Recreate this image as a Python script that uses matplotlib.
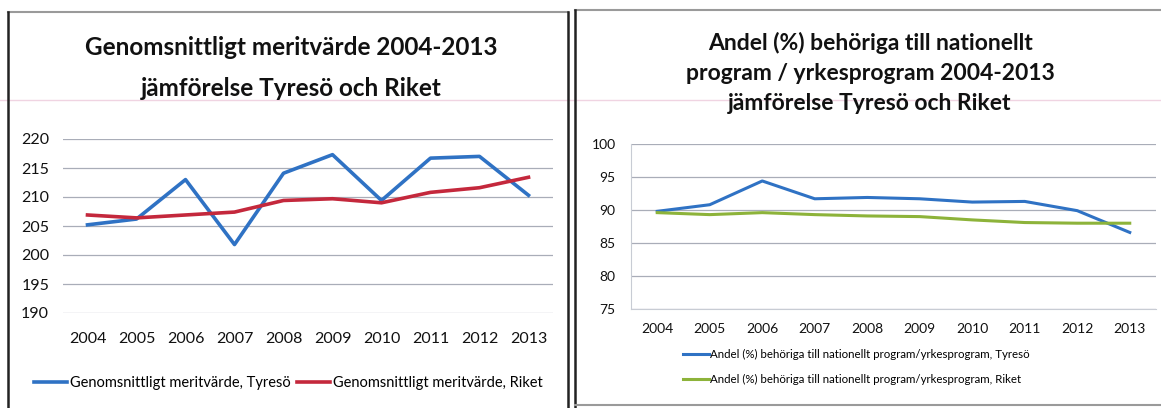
import matplotlib.pyplot as plt
from matplotlib.lines import Line2D

plt.rcParams['font.family'] = ['Lato', 'DejaVu Sans']

# Data
years = ["2004", "2005", "2006", "2007", "2008", "2009", "2010", "2011", "2012", "2013"]
merit_tyreso = [205.2, 206.2, 213.0, 201.8, 214.1, 217.3, 209.4, 216.7, 217.0, 210.3]
merit_riket = [206.9, 206.4, 206.9, 207.4, 209.4, 209.7, 209.0, 210.8, 211.6, 213.4]
andel_tyreso = [89.8, 90.8, 94.4, 91.7, 91.9, 91.7, 91.2, 91.3, 89.9, 86.6]
andel_riket = [89.6, 89.3, 89.6, 89.3, 89.1, 89.0, 88.5, 88.1, 88.0, 88.0]

blue = "#2f72c4"
red = "#c4283c"
green = "#8db33a"
grid_col = "#a9adb8"

W, H = 1161, 408
fig = plt.figure(figsize=(W / 100, H / 100), dpi=100)
fig.patch.set_facecolor("white")


def px(x0, y0, x1, y1):
    # pixel box (top-left origin) -> figure fraction [l, b, w, h]
    return [x0 / W, 1 - y1 / H, (x1 - x0) / W, (y1 - y0) / H]


def hline(x0, x1, y, **kw):
    fig.add_artist(Line2D([x0 / W, x1 / W], [1 - y / H, 1 - y / H], **kw))


def vline(x, y0, y1, **kw):
    fig.add_artist(Line2D([x / W, x / W], [1 - y0 / H, 1 - y1 / H], **kw))


# panel frames (scanned page look)
hline(0, W, 100, color="#f0d4e2", lw=1.0)
hline(8, 568, 12, color="#9a9a9a", lw=1.5)
hline(575, W, 10, color="#9a9a9a", lw=1.5)
vline(8, 12, H, color="#222222", lw=1.8)
vline(568, 12, H, color="#222222", lw=1.8)
vline(575, 10, H, color="#222222", lw=1.8)
hline(575, W, 405, color="#9a9a9a", lw=1.5)

x = list(range(len(years)))

# ===== Left chart =====
ax1 = fig.add_axes(px(63, 139, 553, 313))
ax1.plot(x, merit_tyreso, color=blue, lw=2.6, label="Genomsnittligt meritvärde, Tyresö")
ax1.plot(x, merit_riket, color=red, lw=2.6, label="Genomsnittligt meritvärde, Riket")
ax1.set_xlim(-0.5, len(years) - 0.5)
ax1.set_ylim(190, 220)
ax1.set_yticks(range(190, 221, 5))
ax1.set_xticks(x)
ax1.set_xticklabels(years)
ax1.grid(axis="y", color=grid_col, lw=0.9)
ax1.set_axisbelow(True)
for s in ax1.spines.values():
    s.set_visible(False)
ax1.tick_params(length=0, labelsize=11.5, colors="#111111")
ax1.tick_params(axis="x", pad=14)
ax1.tick_params(axis="y", pad=10)
fig.text(291 / W, 1 - 68 / H, "Genomsnittligt meritvärde 2004-2013\njämförelse Tyresö och Riket",
         ha="center", va="center", fontsize=17.5, fontweight="bold", linespacing=1.95, color="#111111")
ax1.legend(loc="center", bbox_to_anchor=(0.46, -0.405), ncol=2, frameon=False, fontsize=10.5,
           handlelength=2.3, handletextpad=0.2, columnspacing=0.4)

# ===== Right chart =====
ax2 = fig.add_axes(px(631, 144, 1156, 309))
ax2.plot(x, andel_tyreso, color=blue, lw=2.2,
         label="Andel (%) behöriga till nationellt program/yrkesprogram, Tyresö")
ax2.plot(x, andel_riket, color=green, lw=2.2,
         label="Andel (%) behöriga till nationellt program/yrkesprogram, Riket")
ax2.set_xlim(-0.5, len(years) - 0.5)
ax2.set_ylim(75, 100)
ax2.set_yticks(range(75, 101, 5))
ax2.set_xticks(x)
ax2.set_xticklabels(years)
ax2.grid(axis="y", color=grid_col, lw=0.9)
ax2.set_axisbelow(True)
for s in ax2.spines.values():
    s.set_visible(False)
ax2.spines["left"].set_visible(True)
ax2.spines["left"].set_color("#c8ccd4")
ax2.spines["bottom"].set_visible(True)
ax2.spines["bottom"].set_color("#c8ccd4")
ax2.tick_params(length=0, labelsize=10, colors="#111111")
ax2.tick_params(axis="x", pad=10)
ax2.tick_params(axis="y", pad=11)
fig.text(870 / W, 1 - 73 / H, "Andel (%) behöriga till nationellt\nprogram / yrkesprogram 2004-2013\njämförelse Tyresö och Riket",
         ha="center", va="center", fontsize=16.5, fontweight="bold", linespacing=1.55, color="#111111")
ax2.legend(loc="upper left", bbox_to_anchor=(0.08, -0.18), ncol=1, frameon=False, fontsize=8.3,
           handlelength=2.2, handletextpad=0.15, labelspacing=1.2)

fig.savefig("out.png", dpi=100)
